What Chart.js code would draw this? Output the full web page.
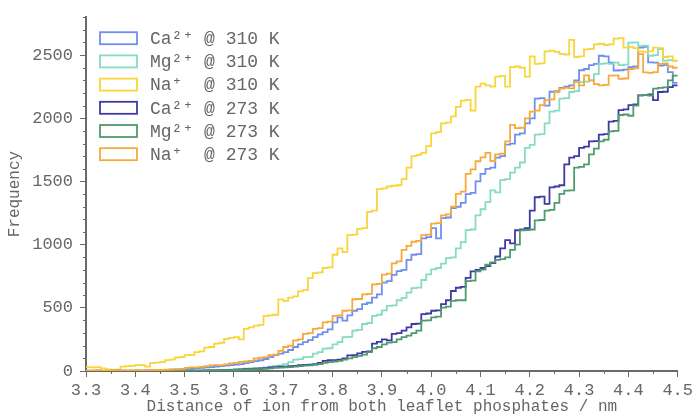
<!DOCTYPE html>
<html><head><meta charset="utf-8">
<script src="https://cdn.jsdelivr.net/npm/chart.js@4.4.0/dist/chart.umd.min.js"></script>
<style>html,body{margin:0;padding:0;background:#fff}#wrap{width:696px;height:415px;position:relative}</style>
</head><body><div id="wrap"><canvas id="c" width="696" height="415"></canvas></div>
<script>
// Histogram bins: left edges from 3.30 nm, width 0.01 nm (120 bins up to 4.50)
const binFirst = 3.30, binWidth = 0.01, binCount = 120;
const xTickLabels = ['3.3','3.4','3.5','3.6','3.7','3.8','3.9','4.0','4.1','4.2','4.3','4.4','4.5'];
const yTickLabels = ['0','500','1000','1500','2000','2500'];
const seriesLabels = ['Ca²⁺ @ 310 K','Mg²⁺ @ 310 K','Na⁺  @ 310 K','Ca²⁺ @ 273 K','Mg²⁺ @ 273 K','Na⁺  @ 273 K'];

const ca310 = [0,0,2,0,0,3,0,2,0,3,5,3,5,4,6,
 5,8,10,12,14, 15,18,22,25,28, 30,34,38,42,46, 50,55,62,70,78, 85,95,110,125,138,
 150,166,190,210,229, 245,268,290,307,330, 385,424,398,440,477, 490,529,540,581,607,
 700,711,760,790,800, 880,920,925,1050,1060, 1130,1050,1210,1215,1290, 1300,1330,1400,1410,1500,
 1560,1600,1610,1688,1700, 1792,1800,1870,1880,1960, 2000,2156,2160,2100,2210, 2215,2240,2250,2260,2300,
 2380,2390,2420,2430,2495, 2490,2440,2378,2380,2385, 2404,2410,2560,2565,2442, 2440,2416,2420,2365,2280];
const mg310 = [0,0,0,0,0,0,2,0,0,0,2,0,0,0,3,
 2,0,3,2,3, 3,4,3,5,5, 5,6,8,8,10, 15,14,18,20,22, 25,28,35,41,45,
 55,70,90,94,110, 112,138,150,177,180, 210,229,268,270,320, 325,372,380,437,445,
 480,515,520,560,578, 620,656,660,720,765, 805,815,850,893,900, 970,1020,1115,1120,1232,
 1280,1336,1430,1414,1510, 1518,1570,1610,1650,1766, 1790,1870,1875,1960,2052, 2060,2156,2160,2208,2215,
 2286,2290,2300,2350,2430, 2435,2430,2440,2420,2425, 2599,2600,2573,2575,2495, 2500,2547,2456,2460,2456];
const na310 = [30,28,30,20,12,10,10,35,38,40,47,46,34,62,66,
 70,86,90,107,110, 125,128,150,155,185, 190,216,222,255,262, 268,250,333,345,359, 365,437,440,445,567,
 555,580,590,630,640, 735,775,780,815,820, 920,970,940,1075,1080, 1125,1130,1260,1270,1440,
 1445,1460,1466,1470,1518, 1610,1700,1710,1727,1780, 1880,1890,1960,1965,2015, 2090,2140,2145,2060,2250,
 2275,2260,2250,2330,2335, 2250,2405,2410,2400,2330, 2490,2430,2435,2530,2535, 2525,2510,2505,2620,2485,
 2490,2545,2550,2585,2590, 2580,2585,2630,2635,2560, 2565,2555,2530,2525,2530, 2560,2555,2485,2490,2455];
const ca273 = [0,0,0,0,0,0,2,0,0,0,0,0,2,0,0,
 0,0,2,0,2, 0,3,2,3,5, 4,5,6,8,8, 10,12,14,15,18, 20,22,28,30,34,
 35,38,40,46,48, 50,55,65,80,85, 85,90,100,124,126, 140,151,155,216,230,
 250,242,294,300,320, 346,372,375,450,455, 477,480,529,560,633, 659,665,737,789,800,
 815,830,854,906,971, 1036,1010,1114,1120,1130, 1270,1375,1380,1322,1453, 1460,1470,1636,1688,1700,
 1766,1776,1818,1820,1870, 1875,1974,1980,2065,2070, 2104,2110,2182,2185,2190, 2143,2208,2210,2247,2260];
const mg273 = [0,0,0,0,0,0,0,0,2,0,0,0,0,0,0,
 0,0,0,2,0, 0,2,2,3,3, 4,4,5,6,6, 8,9,10,12,14, 15,17,20,24,26,
 28,30,34,38,42, 45,48,55,65,70, 75,80,90,100,110, 120,130,150,180,190,
 210,225,229,250,268, 280,300,320,398,400, 424,430,502,510,555, 560,560,711,715,789,
 802,841,860,880,885, 900,958,1000,1114,1116, 1120,1192,1195,1270,1275, 1330,1401,1427,1430,1609,
 1615,1636,1714,1760,1818, 1830,1896,1900,2026,2030, 2020,2100,2182,2185,2180, 2234,2240,2245,2300,2338];
const na273 = [5,4,6,3,2,4,3,5,2,4,6,5,4,7,8,
 8,10,12,13,14, 25,28,29,32,38, 45,47,47,52,60, 65,73,75,80,99, 105,110,125,130,160,
 190,200,242,250,294, 300,333,340,385,390, 437,440,477,480,568, 570,607,610,685,690,
 763,770,852,867,958, 990,1023,1030,1076,1080, 1167,1170,1232,1240,1300, 1401,1420,1560,1596,1660,
 1690,1727,1662,1714,1720, 1818,1948,1922,1925,2000, 2052,2060,2104,2143,2150, 2208,2234,2240,2236,2286,
 2260,2340,2300,2270,2260, 2265,2338,2340,2312,2315, 2390,2395,2508,2364,2360, 2365,2430,2435,2410,2400];

const seriesValues = [ca310, mg310, na310, ca273, mg273, na273];
const seriesColors = ['#6f8ff0','#86dcc0','#f8d53a','#3d3aa6','#4f9a6e','#f6aa3a'];

const binEdges = [];
for (let i = 0; i <= binCount; i++) binEdges.push(+(binFirst + i * binWidth).toFixed(2));

const axisColor = '#6a6a6a';
const textColor = '#666666';
const FONT = "'Liberation Mono', 'Courier New', monospace";

const datasets = seriesValues.map((vals, k) => {
  const pts = vals.map((v, i) => ({x: binEdges[i], y: v}));
  pts.push({x: binEdges[binCount], y: vals[vals.length - 1]});
  return {
    label: seriesLabels[k], data: pts, borderColor: seriesColors[k], backgroundColor: seriesColors[k],
    borderWidth: 1.8, stepped: true, pointRadius: 0, fill: false, order: 5 - k
  };
});

const isMajorY = (v) => Math.abs(v % 500) < 1e-6;

const minorTicks = {
  id: 'minorTicks',
  afterDraw(chart) {
    const ctx = chart.ctx, xs = chart.scales.x, ys = chart.scales.y;
    ctx.save();
    ctx.strokeStyle = axisColor; ctx.lineWidth = 1;
    ys.ticks.forEach(t => {
      if (isMajorY(t.value)) return;
      const py = Math.round(ys.getPixelForValue(t.value)) + 0.5;
      ctx.beginPath(); ctx.moveTo(xs.left - 3, py); ctx.lineTo(xs.left, py); ctx.stroke();
    });
    for (let k = 1; k < 24; k += 2) {
      const px = Math.round(xs.getPixelForValue(3.3 + k * 0.05)) + 0.5;
      ctx.beginPath(); ctx.moveTo(px, ys.bottom); ctx.lineTo(px, ys.bottom + 3); ctx.stroke();
    }
    ctx.restore();
  }
};

const insideLegend = {
  id: 'insideLegend',
  afterDraw(chart) {
    const ctx = chart.ctx, area = chart.chartArea;
    ctx.save();
    ctx.font = "18px " + FONT;
    ctx.textBaseline = 'middle';
    chart.data.datasets.forEach((ds, i) => {
      const cy = area.top + 21 + i * 23.2;
      const bx = area.left + 14;
      ctx.fillStyle = '#ffffff';
      ctx.fillRect(bx, cy - 6, 37, 12);
      ctx.strokeStyle = ds.borderColor; ctx.lineWidth = 1.8;
      ctx.strokeRect(bx, cy - 6, 37, 12);
      ctx.fillStyle = textColor;
      ctx.fillText(ds.label, area.left + 64, cy + 1);
    });
    ctx.restore();
  }
};

new Chart(document.getElementById('c'), {
  type: 'line',
  data: { datasets },
  options: {
    responsive: false, animation: false, devicePixelRatio: 1,
    layout: { padding: { top: 13, right: 18, left: 0, bottom: 0 } },
    plugins: { legend: { display: false }, tooltip: { enabled: false } },
    scales: {
      x: {
        type: 'linear', min: 3.3, max: 4.5,
        afterFit(s) { s.height = 44; },
        border: { display: true, color: axisColor, width: 2 },
        grid: { drawOnChartArea: false, drawTicks: true, tickLength: 6, tickColor: axisColor },
        ticks: { stepSize: 0.1, color: textColor, font: { family: FONT, size: 17 }, padding: 3,
          maxRotation: 0, autoSkip: false, includeBounds: false,
          callback: (v) => { const l = Number(v).toFixed(1); return xTickLabels.includes(l) ? l : ''; } },
        title: { display: true, text: 'Distance of ion from both leaflet phosphates / nm', color: textColor,
          font: { family: FONT, size: 16, lineHeight: 1 }, padding: { top: 0, bottom: 0 } }
      },
      y: {
        min: 0, max: 2800,
        afterFit(s) { s.width = 86; },
        border: { display: true, color: axisColor, width: 2 },
        grid: { drawOnChartArea: false, drawTicks: true, tickLength: 6,
          tickColor: (c) => (c.tick && isMajorY(c.tick.value)) ? axisColor : 'rgba(0,0,0,0)' },
        ticks: { stepSize: 100, color: textColor, font: { family: FONT, size: 17 }, padding: 7,
          autoSkip: false, includeBounds: false,
          callback: (v) => yTickLabels.includes(String(v)) ? String(v) : '' },
        title: { display: true, text: 'Frequency', color: textColor, font: { family: FONT, size: 16, lineHeight: 1 },
          padding: { top: 7, bottom: 0 } }
      }
    }
  },
  plugins: [minorTicks, insideLegend]
});
</script></body></html>
